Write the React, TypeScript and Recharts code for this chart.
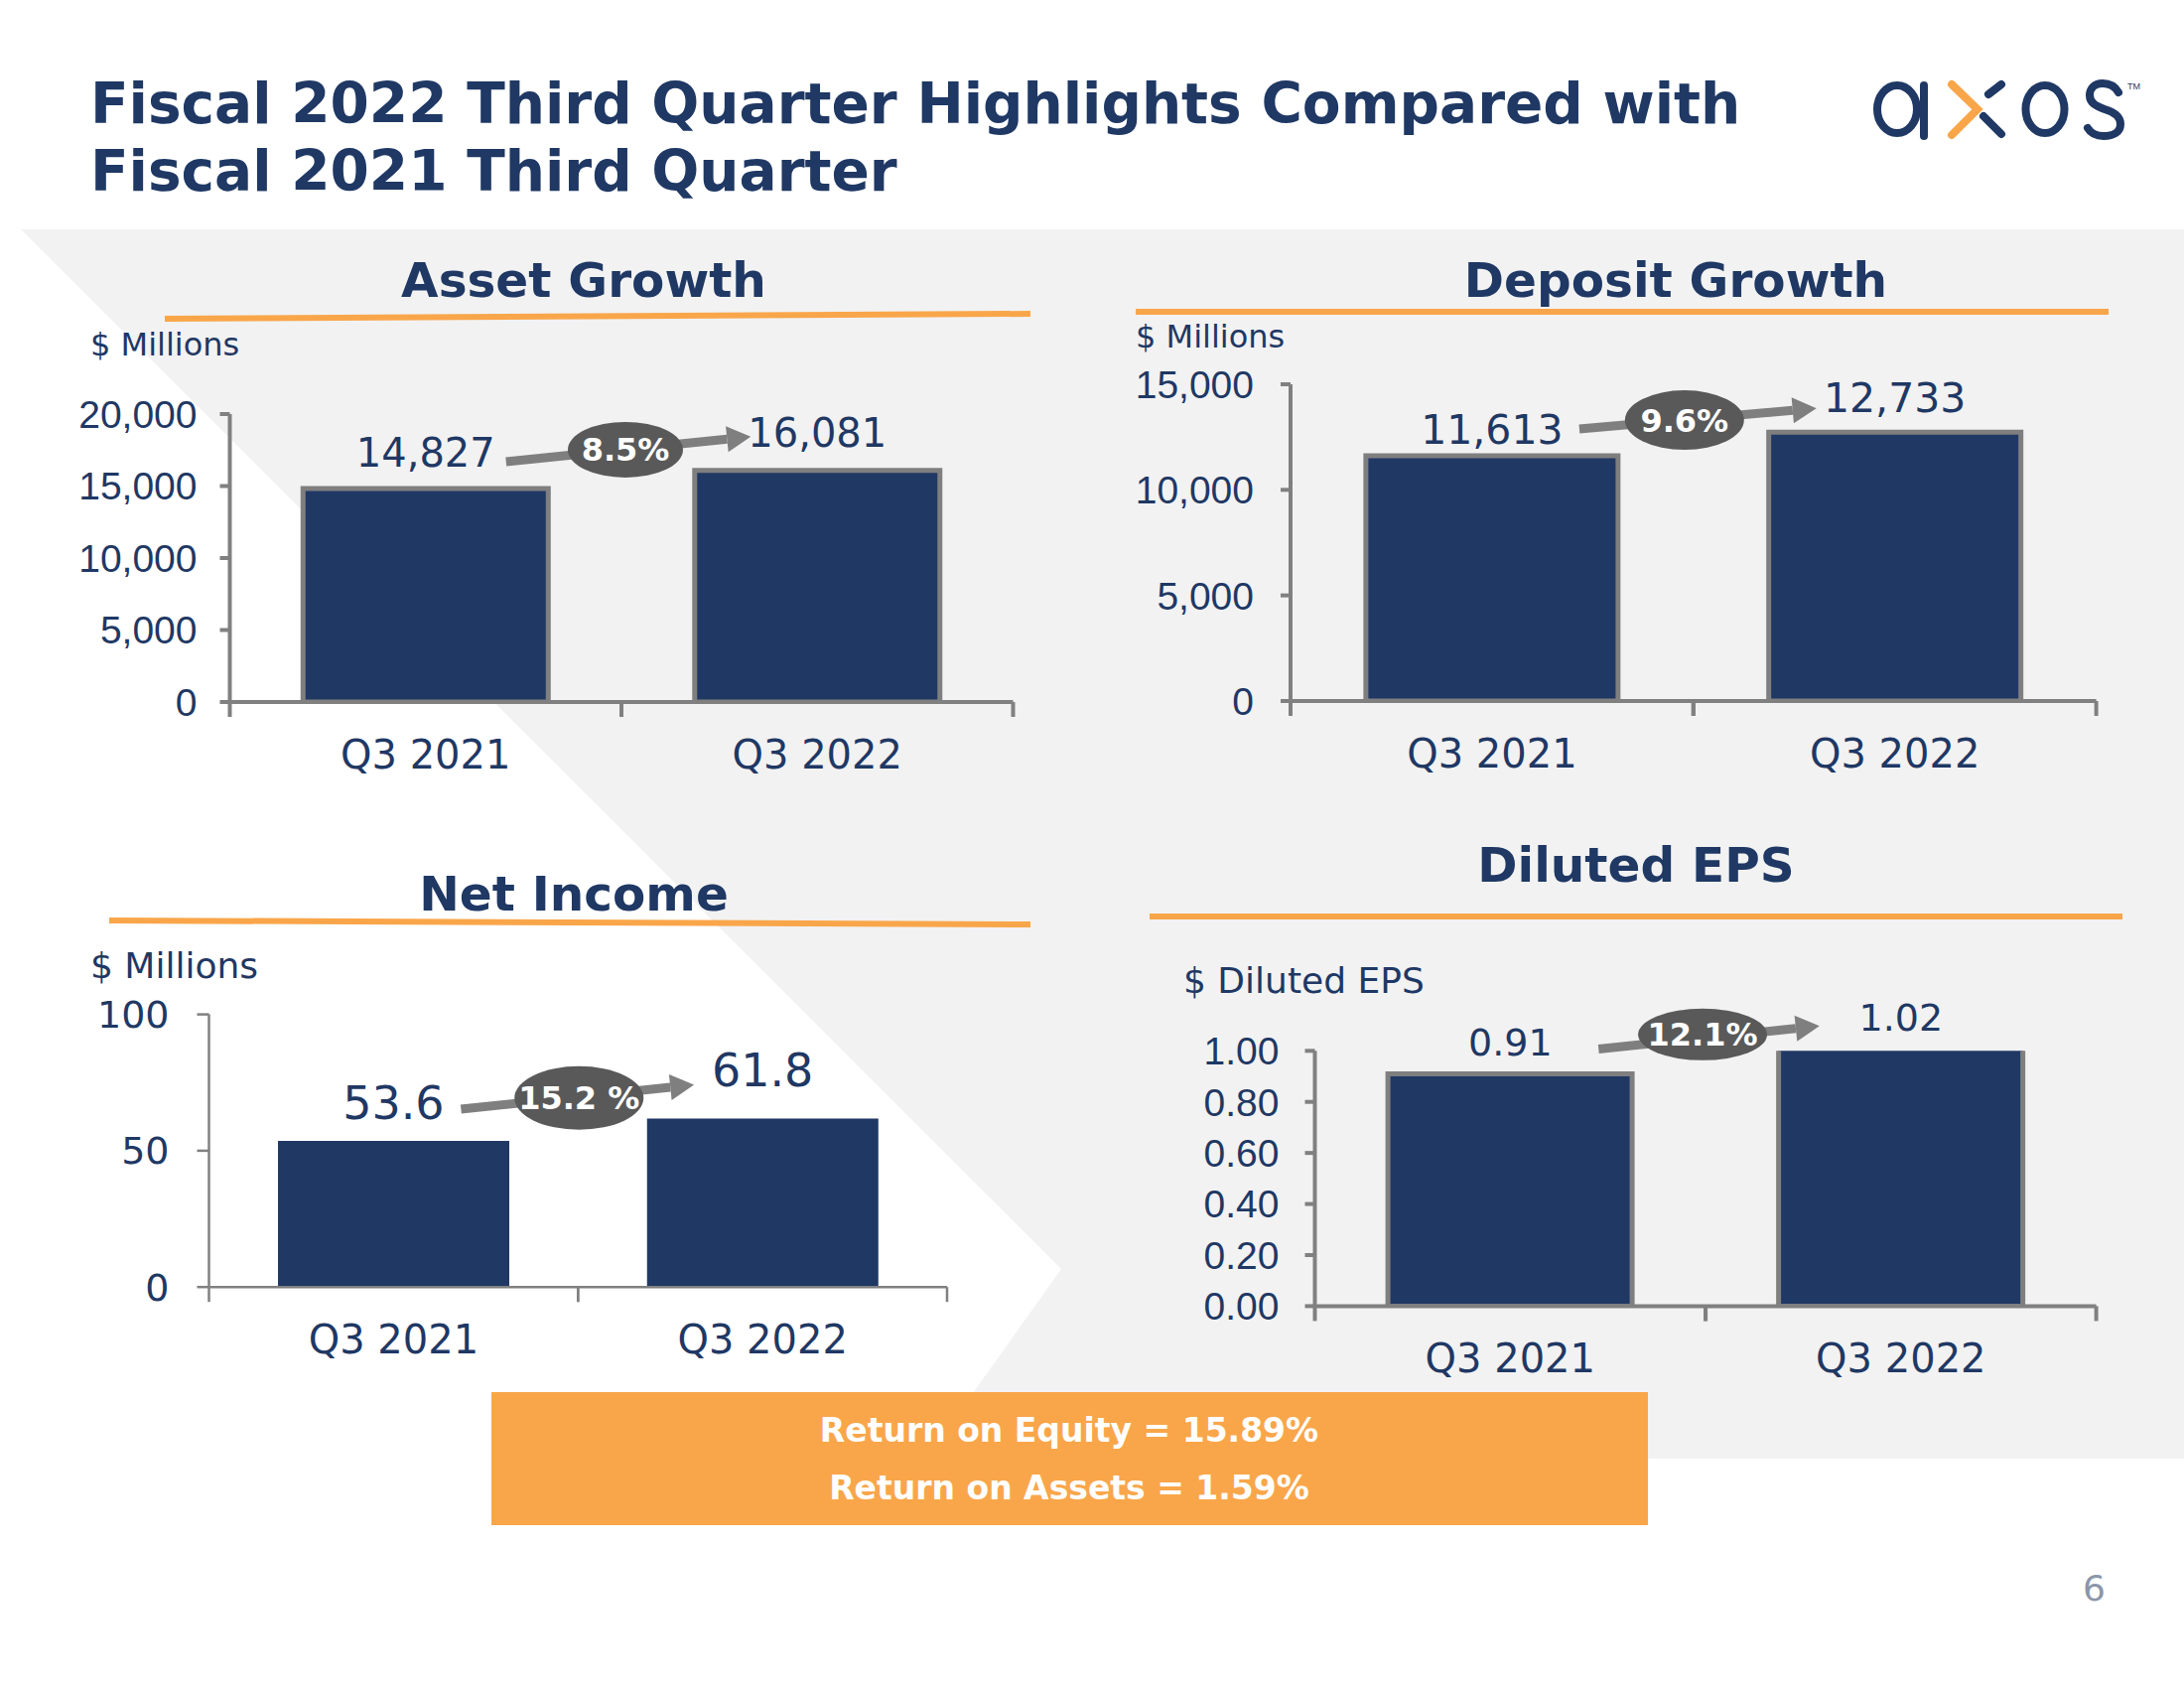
import React from 'react';
import { BarChart, Bar, XAxis, YAxis, ReferenceLine } from 'recharts';

const categories = ['Q3 2021', 'Q3 2022'];
const assetValues = [14827, 16081];
const depositValues = [11613, 12733];
const netIncomeValues = [53.6, 61.8];
const epsValues = [0.91, 1.02];
const assetTicks = [0, 5000, 10000, 15000, 20000];
const depositTicks = [0, 5000, 10000, 15000];
const netIncomeTicks = [0, 50, 100];
const epsTicks = [0, 0.2, 0.4, 0.6, 0.8, 1.0];
const growthLabels = ['8.5%', '9.6%', '15.2 %', '12.1%'];
const returnLines = ['Return on Equity = 15.89%', 'Return on Assets = 1.59%'];
const titleLines = ['Fiscal 2022 Third Quarter Highlights Compared with', 'Fiscal 2021 Third Quarter'];

const NAVY = '#1F3864';
const BAR = '#203864';
const ORANGE = '#F9A64A';
const AXIS = '#808080';
const ARROW = '#7F7F7F';
const BUBBLE = '#595959';
const PANEL = '#F2F2F2';
const VERDANA = '"DejaVu Sans", Verdana, sans-serif';
const ARIAL = '"Liberation Sans", Arial, sans-serif';

const comma = (v: number) => v.toLocaleString('en-US');
const oneDec = (v: number) => v.toFixed(1);
const twoDec = (v: number) => v.toFixed(2);
const plain = (v: number) => String(v);

const panels = [
  {
    key: 'asset', values: assetValues, ticks: assetTicks, growth: growthLabels[0],
    tickFmt: comma, valueFmt: comma,
    box: { left: 0, top: 380, width: 1060, height: 420 },
    plot: { x0: 231.5, x1: 1020.5, y0: 417, y1: 707 },
    axisWidth: 4, barStroke: 5, yFont: ARIAL, yFontSize: 39, yTickSize: 10, yTickMargin: 23,
    valueFontSize: 40, labelGap: [22, 24], arrow: [81, -5, -67, -10],
    bubble: { dx: 4, dy: -7, rx: 58, ry: 28 },
  },
  {
    key: 'deposit', values: depositValues, ticks: depositTicks, growth: growthLabels[1],
    tickFmt: comma, valueFmt: comma,
    box: { left: 1100, top: 350, width: 1060, height: 450 },
    plot: { x0: 1300, x1: 2111.6, y0: 387, y1: 706 },
    axisWidth: 4, barStroke: 5, yFont: ARIAL, yFontSize: 39, yTickSize: 10, yTickMargin: 27,
    valueFontSize: 41, labelGap: [12, 20], arrow: [88, -15, -79, -4],
    bubble: { dx: -9, dy: -8, rx: 60, ry: 30 },
  },
  {
    key: 'net', values: netIncomeValues, ticks: netIncomeTicks, growth: growthLabels[2],
    tickFmt: plain, valueFmt: oneDec,
    box: { left: 0, top: 990, width: 1000, height: 400 },
    plot: { x0: 210.5, x1: 954, y0: 1021.6, y1: 1296.2 },
    axisWidth: 2.5, barStroke: 0, yFont: VERDANA, yFontSize: 38, yTickSize: 12, yTickMargin: 28,
    valueFontSize: 46, labelGap: [22, 32], arrow: [68, -10, -69, -2],
    bubble: { dx: 1, dy: -5, rx: 65, ry: 32 },
  },
  {
    key: 'eps', values: epsValues, ticks: epsTicks, growth: growthLabels[3],
    tickFmt: twoDec, valueFmt: twoDec,
    box: { left: 1100, top: 960, width: 1060, height: 450 },
    plot: { x0: 1324.5, x1: 2111.6, y0: 1058.3, y1: 1315.4 },
    axisWidth: 4, barStroke: 5, yFont: ARIAL, yFontSize: 39, yTickSize: 10, yTickMargin: 26,
    valueFontSize: 38, labelGap: [18, 20], arrow: [89, -7, -82, -5],
    bubble: { dx: -3, dy: -9, rx: 65, ry: 26 },
  },
];

const headings = [
  { text: 'Asset Growth', x: 588, y: 299, line: [166, 321, 1038, 316] },
  { text: 'Deposit Growth', x: 1688, y: 299, line: [1144, 314, 2124, 314] },
  { text: 'Net Income', x: 578, y: 917, line: [110, 927, 1038, 931] },
  { text: 'Diluted EPS', x: 1648, y: 888, line: [1158, 923, 2138, 923] },
];

const unitLabels = [
  { text: '$ Millions', x: 91, y: 358, size: 32 },
  { text: '$ Millions', x: 1144, y: 350, size: 32 },
  { text: '$ Millions', x: 91, y: 985, size: 36 },
  { text: '$ Diluted EPS', x: 1192, y: 1000, size: 36 },
];

function GrowthMarker(props: any) {
  const { x1, y1, x2, y2, cfg } = props;
  if (x1 == null || x2 == null) return null;
  const b1 = y1 - cfg.labelGap[0];
  const b2 = y2 - cfg.labelGap[1];
  const [ax1, ay1, ax2, ay2] = cfg.arrow;
  const sx = x1 + ax1, sy = b1 + ay1, ex = x2 + ax2, ey = b2 + ay2;
  const len = Math.hypot(ex - sx, ey - sy);
  const ux = (ex - sx) / len, uy = (ey - sy) / len;
  const head = 24, halfW = 13;
  const bx = ex - ux * head, by = ey - uy * head;
  const px = -uy, py = ux;
  const cx = (x1 + x2) / 2 + cfg.bubble.dx;
  const cy = (b1 + b2) / 2 + cfg.bubble.dy;
  const valueStyle = { fill: NAVY, fontSize: cfg.valueFontSize, fontFamily: VERDANA };
  return (
    <g>
      <text x={x1} y={b1} textAnchor="middle" {...valueStyle}>{cfg.valueFmt(cfg.values[0])}</text>
      <text x={x2} y={b2} textAnchor="middle" {...valueStyle}>{cfg.valueFmt(cfg.values[1])}</text>
      <line x1={sx} y1={sy} x2={bx} y2={by} stroke={ARROW} strokeWidth={9} />
      <polygon
        points={`${ex},${ey} ${bx + px * halfW},${by + py * halfW} ${bx - px * halfW},${by - py * halfW}`}
        fill={ARROW}
      />
      <ellipse cx={cx} cy={cy} rx={cfg.bubble.rx} ry={cfg.bubble.ry} fill={BUBBLE} />
      <text x={cx} y={cy + 11.5} textAnchor="middle" fill="#FFFFFF" fontWeight="bold" fontSize={32} fontFamily={VERDANA}>
        {cfg.growth}
      </text>
    </g>
  );
}

function Panel({ cfg }: { cfg: any }) {
  const { box, plot } = cfg;
  const yAxisWidth = plot.x0 - box.left;
  const marginTop = plot.y0 - box.top;
  const marginRight = box.left + box.width - plot.x1;
  const xAxisHeight = box.top + box.height - plot.y1;
  const halfBand = (plot.x1 - plot.x0) / categories.length / 2;
  const yMax = cfg.ticks[cfg.ticks.length - 1];
  const data = categories.map((c, i) => ({ cat: c, value: cfg.values[i] }));
  const segment = categories.map((c, i) => ({ x: c, y: Math.min(cfg.values[i], yMax) }));

  const renderTick = (p: any) => (
    <g>
      <line x1={p.x - halfBand} x2={p.x - halfBand} y1={p.y} y2={p.y + 15} stroke={AXIS} strokeWidth={cfg.axisWidth} />
      <line x1={p.x + halfBand} x2={p.x + halfBand} y1={p.y} y2={p.y + 15} stroke={AXIS} strokeWidth={cfg.axisWidth} />
      <text x={p.x} y={p.y + 67} textAnchor="middle" fill={NAVY} fontSize={40} fontFamily={VERDANA}>
        {p.payload.value}
      </text>
    </g>
  );

  return (
    <div style={{ position: 'absolute', left: box.left, top: box.top }}>
      <BarChart
        width={box.width}
        height={box.height}
        data={data}
        margin={{ top: marginTop, right: marginRight, bottom: 0, left: 0 }}
        barCategoryGap="18.7%"
      >
        <XAxis
          dataKey="cat"
          height={xAxisHeight}
          interval={0}
          tickSize={0}
          tickMargin={0}
          tickLine={false}
          axisLine={{ stroke: AXIS, strokeWidth: cfg.axisWidth }}
          tick={renderTick}
        />
        <YAxis
          width={yAxisWidth}
          domain={[0, yMax]}
          ticks={cfg.ticks}
          allowDataOverflow
          interval={0}
          tickSize={cfg.yTickSize}
          tickMargin={cfg.yTickMargin}
          axisLine={{ stroke: AXIS, strokeWidth: cfg.axisWidth }}
          tickLine={{ stroke: AXIS, strokeWidth: cfg.axisWidth }}
          tick={{ fill: NAVY, fontSize: cfg.yFontSize, fontFamily: cfg.yFont }}
          tickFormatter={cfg.tickFmt}
        />
        <Bar
          dataKey="value"
          fill={BAR}
          stroke={cfg.barStroke ? '#7F7F7F' : 'none'}
          strokeWidth={cfg.barStroke}
          isAnimationActive={false}
        />
        <ReferenceLine
          segment={segment}
          ifOverflow="visible"
          shape={(p: any) => <GrowthMarker {...p} cfg={cfg} />}
        />
      </BarChart>
    </div>
  );
}

function Backdrop() {
  return (
    <svg width={2200} height={1700} style={{ position: 'absolute', left: 0, top: 0 }}>
      <rect x={0} y={0} width={2200} height={1700} fill="#FFFFFF" />
      <rect x={0} y={231} width={2200} height={1238} fill={PANEL} />
      <polygon points="0,231 21,231 1069,1278 933,1469 0,1469" fill="#FFFFFF" />

      {titleLines.map((t, i) => (
        <text key={t} x={91} y={124 + i * 68} fill={NAVY} fontSize={56.5} fontWeight="bold" fontFamily={VERDANA}>
          {t}
        </text>
      ))}

      {/* logo */}
      <g fill="none" strokeWidth={8} strokeLinecap="round">
        <ellipse cx={1911} cy={110} rx={20} ry={24} stroke={NAVY} />
        <line x1={1938} y1={86} x2={1938} y2={137} stroke={NAVY} />
        <polyline points="1966,85 1992,110 1966,136" stroke={ORANGE} strokeLinejoin="miter" />
        <line x1={2003} y1={95} x2={2016} y2={85} stroke={NAVY} />
        <line x1={1998} y1={117} x2={2016} y2={135} stroke={NAVY} />
        <ellipse cx={2060} cy={110} rx={19.5} ry={24} stroke={NAVY} />
        <path
          d="M 2134 93 C 2130 86, 2124 84, 2118 84 C 2109 84, 2105 90, 2105 96 C 2105 104, 2112 107, 2120 110 C 2130 113, 2136 117, 2136 125 C 2136 133, 2129 137, 2119 137 C 2111 137, 2106 134, 2103 129"
          stroke={NAVY}
        />
      </g>
      <text x={2143} y={90} fill={NAVY} fontSize={9} fontFamily={ARIAL}>TM</text>

      {headings.map((h) => (
        <g key={h.text}>
          <text x={h.x} y={h.y} textAnchor="middle" fill={NAVY} fontSize={48.5} fontWeight="bold" fontFamily={VERDANA}>
            {h.text}
          </text>
          <line x1={h.line[0]} y1={h.line[1]} x2={h.line[2]} y2={h.line[3]} stroke={ORANGE} strokeWidth={6} />
        </g>
      ))}

      {unitLabels.map((u) => (
        <text key={u.text + u.x} x={u.x} y={u.y} fill={NAVY} fontSize={u.size} fontFamily={VERDANA}>
          {u.text}
        </text>
      ))}

      <rect x={495} y={1402} width={1165} height={134} fill={ORANGE} />
      {returnLines.map((t, i) => (
        <text key={t} x={1077} y={1452 + i * 58} textAnchor="middle" fill="#FFFFFF" fontSize={33} fontWeight="bold" fontFamily={VERDANA}>
          {t}
        </text>
      ))}

      <text x={2121} y={1612} textAnchor="end" fill="#8C96A8" fontSize={36} fontFamily={VERDANA}>6</text>
    </svg>
  );
}

export default function App() {
  return (
    <div style={{ position: 'absolute', left: 0, top: 0, width: 2200, height: 1700, background: '#FFFFFF' }}>
      <Backdrop />
      {panels.map((p) => (
        <Panel key={p.key} cfg={p} />
      ))}
    </div>
  );
}
